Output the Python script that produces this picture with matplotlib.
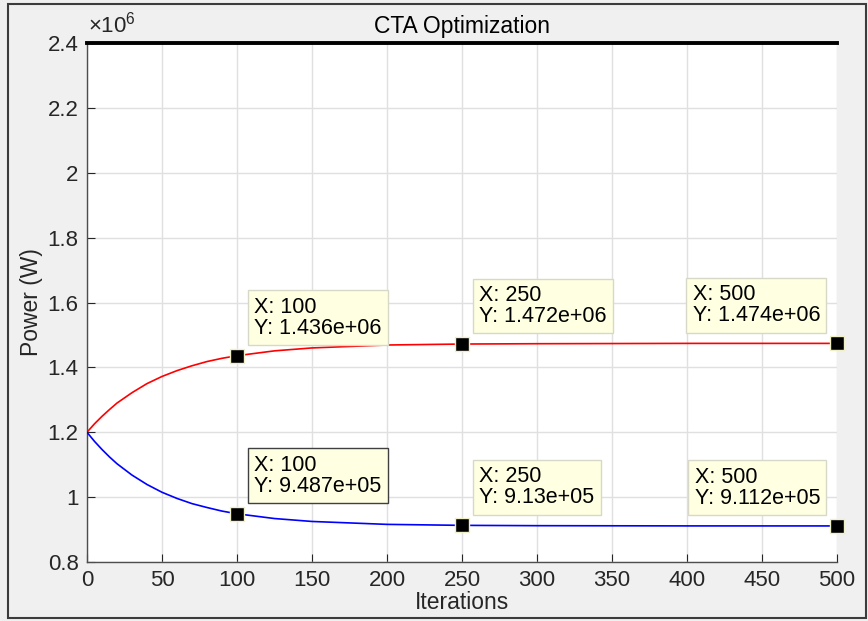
import matplotlib
matplotlib.use("Agg")
import matplotlib.pyplot as plt
from matplotlib.patches import Rectangle
from matplotlib.ticker import FuncFormatter

plt.rcParams["font.family"] = ["Liberation Sans", "DejaVu Sans"]
plt.rcParams["mathtext.fontset"] = "custom"
plt.rcParams["mathtext.rm"] = "Liberation Sans"

# ------------ DATA ------------
iters = [0, 5, 10, 15, 20, 30, 40, 50, 60, 70, 80, 90, 100,
         125, 150, 200, 250, 300, 400, 500]
power_up = [1.200e6, 1.226e6, 1.249e6, 1.270e6, 1.290e6, 1.322e6, 1.350e6,
            1.372e6, 1.390e6, 1.405e6, 1.418e6, 1.428e6, 1.436e6,
            1.451e6, 1.460e6, 1.469e6, 1.472e6, 1.473e6, 1.474e6, 1.474e6]
power_down = [1.200e6, 1.172e6, 1.147e6, 1.124e6, 1.103e6, 1.068e6, 1.039e6,
              1.015e6, 0.996e6, 0.980e6, 0.968e6, 0.957e6, 0.9487e6,
              0.934e6, 0.925e6, 0.916e6, 0.913e6, 0.912e6, 0.9113e6, 0.9112e6]
power_max = 2.4e6

tip_x = [100, 250, 500]
tip_up = [1.436e6, 1.472e6, 1.474e6]
tip_down = [9.487e5, 9.13e5, 9.112e5]

x_ticks = [0, 50, 100, 150, 200, 250, 300, 350, 400, 450, 500]
y_ticks = [0.8e6, 1.0e6, 1.2e6, 1.4e6, 1.6e6, 1.8e6, 2.0e6, 2.2e6, 2.4e6]
# ------------------------------

fig = plt.figure(figsize=(8.68, 6.21), dpi=100, facecolor="#f0f0f0")
fig.patches.append(Rectangle((0.0092, 0.0048), 0.9885, 0.9888,
                             transform=fig.transFigure, fill=False,
                             edgecolor="#3c3c3c", linewidth=1.5))
ax = fig.add_axes([0.1002, 0.0950, 0.8641, 0.8357])
ax.set_facecolor("white")

ax.plot(iters, power_up, color="#ff0000", linewidth=1.2, zorder=3)
ax.plot(iters, power_down, color="#0000ff", linewidth=1.2, zorder=3)
ax.plot([0, 500], [power_max, power_max], color="black", linewidth=2.8,
        clip_on=False, zorder=4)

ax.set_xlim(0, 500)
ax.set_ylim(0.8e6, 2.4e6)
ax.set_xticks(x_ticks)
ax.set_yticks(y_ticks)
ax.yaxis.set_major_formatter(FuncFormatter(lambda v, p: f"{v / 1e6:g}"))
ax.tick_params(direction="in", length=6, width=0.8, colors="#262626",
               labelsize=16, pad=6)
ax.grid(True, color="#e0e0e0", linewidth=1)
ax.set_axisbelow(True)
for side in ["top", "right"]:
    ax.spines[side].set_visible(False)
for side in ["left", "bottom"]:
    ax.spines[side].set_color("#4d4d4d")
    ax.spines[side].set_linewidth(1)

ax.text(0.002, 1.01, r"$\times10^{6}$", transform=ax.transAxes,
        fontsize=16, color="#262626", ha="left", va="bottom")
ax.set_title("CTA Optimization", fontsize=16.5, pad=7)
ax.set_xlabel("Iterations", fontsize=16.5, color="#262626", labelpad=0)
ax.set_ylabel("Power (W)", fontsize=16.5, color="#262626", labelpad=3)

# data tips
def data_tip(x, y, dx, dy, ha, edge):
    ax.plot(x, y, marker="s", markersize=10, color="black",
            markeredgecolor="#f0f0c8", markeredgewidth=1, clip_on=False, zorder=6)
    ax.annotate(f"X: {x}\nY: {y:.4g}", xy=(x, y), xytext=(dx, dy),
                textcoords="offset pixels", ha=ha, va="bottom",
                multialignment="left", fontsize=15.5, linespacing=1.0,
                zorder=7,
                bbox=dict(boxstyle="square,pad=0.3", facecolor="#ffffe1",
                          edgecolor=edge, linewidth=1))

for i, x in enumerate(tip_x):
    if x == 500:
        dx, ha = -17, "right"
    else:
        dx, ha = 17, "left"
    data_tip(x, tip_up[i], dx, 17, ha, "#d8d8c8")
    data_tip(x, tip_down[i], dx, 17, ha, "#404040" if x == 100 else "#d8d8c8")

fig.savefig("out.png", dpi=100, facecolor=fig.get_facecolor())
